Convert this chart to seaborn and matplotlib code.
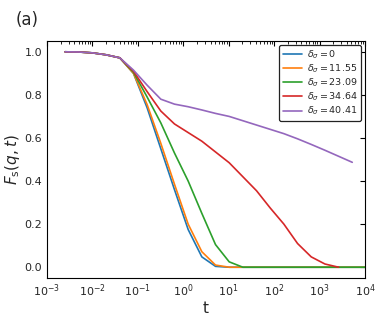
import numpy as np
import pandas as pd
import matplotlib
matplotlib.use("Agg")
import matplotlib.pyplot as plt
import seaborn as sns

# time grid (log-spaced, factor 2)
t = [0.0025 * 2 ** n for n in range(23)]

labels = [r"$\delta_\sigma = 0$", r"$\delta_\sigma = 11.55$", r"$\delta_\sigma = 23.09$",
          r"$\delta_\sigma = 34.64$", r"$\delta_\sigma = 40.41$"]

f_0 = [1.0, 0.999, 0.995, 0.986, 0.972, 0.90, 0.74, 0.55, 0.36, 0.175, 0.048, 0.004,
       0.0, 0.0, 0.0, 0.0, 0.0, 0.0, 0.0, 0.0, 0.0, 0.0, 0.0]
f_1155 = [1.0, 0.999, 0.995, 0.986, 0.972, 0.90, 0.755, 0.575, 0.385, 0.20, 0.072, 0.01,
          0.0, 0.0, 0.0, 0.0, 0.0, 0.0, 0.0, 0.0, 0.0, 0.0, 0.0]
f_2309 = [1.0, 0.999, 0.995, 0.986, 0.972, 0.905, 0.79, 0.67, 0.53, 0.40, 0.25, 0.105,
          0.025, 0.0, 0.0, 0.0, 0.0, 0.0, 0.0, 0.0, 0.0, 0.0, 0.0]
f_3464 = [1.0, 0.999, 0.995, 0.986, 0.972, 0.91, 0.815, 0.725, 0.665, 0.625, 0.585, 0.535,
          0.485, 0.42, 0.355, 0.275, 0.20, 0.11, 0.048, 0.015, 0.0]
f_4041 = [1.0, 0.999, 0.995, 0.986, 0.972, 0.915, 0.845, 0.78, 0.757, 0.745, 0.73, 0.714,
          0.70, 0.68, 0.66, 0.64, 0.62, 0.596, 0.57, 0.543, 0.515, 0.487]

series = [f_0, f_1155, f_2309, f_3464, f_4041]
colors = sns.color_palette("tab10", 5)

sns.set_style("white")
plt.rcParams["font.family"] = ["DejaVu Sans"]
plt.rcParams["mathtext.fontset"] = "dejavusans"

fig = plt.figure(figsize=(3.81, 3.18), dpi=100)
ax = fig.add_axes([0.1234, 0.1258, 0.8346, 0.7452])

for lab, vals, c in zip(labels, series, colors):
    df = pd.DataFrame({"t": t[:len(vals)], "F": vals})
    sns.lineplot(data=df, x="t", y="F", ax=ax, color=c, label=lab, linewidth=1.2,
                 estimator=None, sort=False)

ax.set_xscale("log")
ax.set_xlim(1e-3, 1e4)
ax.set_ylim(-0.05, 1.05)
ax.set_yticks([0.0, 0.2, 0.4, 0.6, 0.8, 1.0])
ax.set_xlabel("t", fontsize=11, labelpad=1)
ax.set_ylabel(r"$F_{\mathrm{s}}(q,t)$", fontsize=11, labelpad=2)
ax.tick_params(axis="both", which="both", direction="in", top=True, right=True,
               labelsize=8, color="black")
ax.tick_params(which="major", length=3.5, width=0.8)
ax.tick_params(which="minor", length=2, width=0.6)
ax.xaxis.set_minor_locator(matplotlib.ticker.LogLocator(base=10, subs=np.arange(2, 10), numticks=20))
for s in ax.spines.values():
    s.set_color("black")
    s.set_linewidth(0.8)

leg = ax.legend(loc="upper right", fontsize=6.8, frameon=True, fancybox=True,
                edgecolor="#222222", framealpha=1, borderpad=0.35, handlelength=2.0,
                labelspacing=0.18, handletextpad=0.6, borderaxespad=0.4)
leg.get_frame().set_linewidth(0.9)

fig.text(0.04, 0.965, "(a)", fontsize=12, va="top", ha="left")

fig.savefig("out.png", dpi=100)
